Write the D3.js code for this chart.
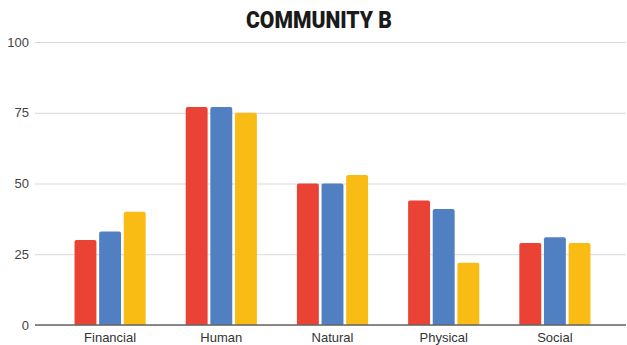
<!DOCTYPE html>
<html><head><meta charset="utf-8">
<script src="https://cdn.jsdelivr.net/npm/d3@7"></script>
<style>body{margin:0;background:#fff}svg{display:block}</style>
</head><body>
<script>
const categories = ["Financial","Human","Natural","Physical","Social"];
const seriesNames = ["Series 1","Series 2","Series 3"];
const series1 = [30,77,50,44,29];
const series2 = [33,77,50,41,31];
const series3 = [40,75,53,22,29];
const yTicks = [0,25,50,75,100];
const colors = ["#ea4335","#5080c1","#f9bc15"];
const title = "COMMUNITY B";

const W=627,H=345;
const svg=d3.select("body").append("svg").attr("width",W).attr("height",H);
const y=d3.scaleLinear().domain([0,100]).range([325,42]);
const x=d3.scaleBand().domain(categories).range([54.5,610.5]).paddingInner(0.36).paddingOuter(0.18);
const xs=d3.scaleBand().domain(seriesNames).range([0,x.bandwidth()]).paddingInner(0.11);
const gridL=35, gridR=626;

const yAxis=svg.append("g").attr("transform",`translate(${gridL},0)`)
  .call(d3.axisLeft(y).tickValues(yTicks).tickSize(-(gridR-gridL)).tickPadding(6));
yAxis.select(".domain").remove();
yAxis.selectAll(".tick line").attr("stroke","#d9d9d9").attr("stroke-width",1.2);
yAxis.selectAll(".tick text").attr("fill","#444").attr("font-family","Liberation Sans, Arial, sans-serif").attr("font-size",13);

const data=[series1,series2,series3];
const g=svg.append("g");
categories.forEach((c,i)=>{
  seriesNames.forEach((s,j)=>{
    const v=data[j][i];
    const x0=x(c)+xs(s), w=xs.bandwidth(), top=y(v), bot=y(0), r=2;
    g.append("path").attr("fill",colors[j])
      .attr("d",`M${x0},${bot}V${top+r}Q${x0},${top} ${x0+r},${top}H${x0+w-r}Q${x0+w},${top} ${x0+w},${top+r}V${bot}Z`);
  });
});

const xAxis=svg.append("g").attr("transform",`translate(0,${y(0)})`)
  .call(d3.axisBottom(x).tickSize(0).tickPadding(8));
xAxis.select(".domain").remove();
xAxis.selectAll(".tick text").attr("fill","#333").attr("font-family","Liberation Sans, Arial, sans-serif").attr("font-size",13);
svg.append("line").attr("x1",gridL).attr("x2",gridR).attr("y1",y(0)).attr("y2",y(0)).attr("stroke","#666").attr("stroke-width",1.6);

svg.append("text").attr("x",319).attr("y",28).attr("text-anchor","middle")
  .attr("font-family","Roboto, 'Liberation Sans', sans-serif").attr("font-weight",900)
  .attr("font-size",24).attr("fill","#1a1a1a").attr("textLength",146).attr("lengthAdjust","spacingAndGlyphs").text(title);
</script>
</body></html>
